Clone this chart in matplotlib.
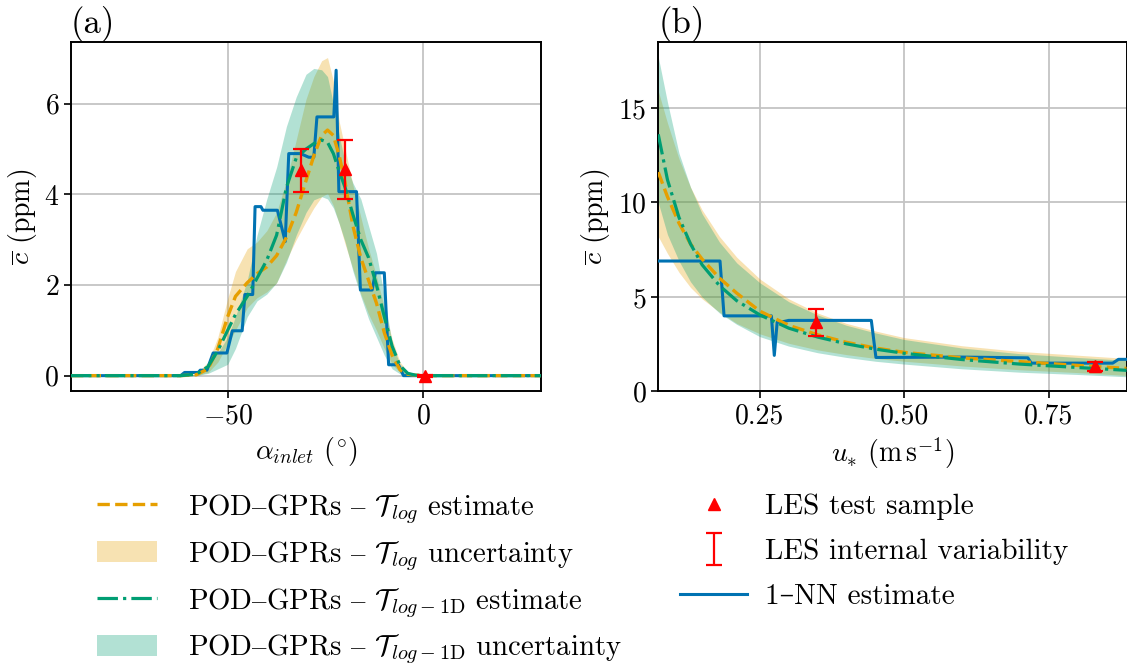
import matplotlib
matplotlib.use("Agg")
import matplotlib.pyplot as plt
from matplotlib.lines import Line2D
from matplotlib.patches import Patch
from matplotlib.legend_handler import HandlerErrorbar
from matplotlib.container import ErrorbarContainer

plt.rcParams['font.family'] = ['cmr10', 'DejaVu Serif']
plt.rcParams['mathtext.fontset'] = 'cm'
plt.rcParams['axes.formatter.use_mathtext'] = True
plt.rcParams['font.size'] = 20
plt.rcParams['axes.unicode_minus'] = True

C_ORANGE = '#E69F00'
C_GREEN = '#009E73'
C_BLUE = '#0072B2'

# ---------------- Panel (a) data ----------------
alpha_grid = [-90, -62, -58, -55, -52.5, -50, -48, -45, -42.5, -40, -37.5, -35, -32.5, -30, -28,
              -26, -24.5, -23, -21.5, -20, -18, -16, -14, -12, -10, -8, -6, -4, -2, 0, 30]
a_log_est = [0, 0, 0.02, 0.15, 0.6, 1.3, 1.75, 2.05, 2.25, 2.4, 2.65, 3.05, 3.6, 4.3, 4.85,
             5.3, 5.42, 5.3, 4.85, 4.25, 3.3, 2.6, 2.1, 1.6, 0.95, 0.45, 0.13, 0.03, 0.01, 0, 0]
a_log_up = [0, 0, 0.05, 0.3, 0.85, 1.7, 2.3, 2.8, 2.95, 3.2, 3.6, 4.3, 5.2, 6.1, 6.6,
            6.95, 7.02, 6.5, 5.6, 5.0, 4.2, 3.5, 2.8, 2.2, 1.5, 0.8, 0.3, 0.08, 0.02, 0, 0]
a_log_lo = [0, 0, 0, 0.07, 0.3, 0.7, 1.0, 1.5, 1.72, 1.85, 2.05, 2.55, 3.0, 3.4, 3.7,
            3.95, 4.02, 3.75, 3.35, 2.9, 2.35, 1.8, 1.35, 1.0, 0.6, 0.25, 0.07, 0.01, 0, 0, 0]
a_1d_est = [0, 0, 0.03, 0.2, 0.55, 1.0, 1.35, 1.75, 2.15, 2.55, 3.1, 4.15, 4.8, 5.0, 5.12,
            5.2, 5.15, 4.9, 4.5, 4.15, 3.55, 3.0, 2.6, 2.0, 1.3, 0.65, 0.22, 0.05, 0.01, 0, 0]
a_1d_up = [0, 0, 0.03, 0.25, 0.5, 0.85, 1.3, 2.1, 3.1, 3.9, 4.6, 5.5, 6.15, 6.65, 6.78,
           6.75, 6.6, 6.0, 5.3, 4.7, 4.25, 3.9, 3.3, 2.7, 1.75, 0.7, 0.25, 0.06, 0.01, 0, 0]
a_1d_lo = [0, 0, 0, 0.05, 0.15, 0.25, 0.6, 1.3, 1.65, 1.8, 2.05, 2.5, 3.1, 3.6, 3.88,
           3.95, 3.9, 3.7, 3.35, 2.95, 2.3, 1.75, 1.25, 0.85, 0.45, 0.15, 0.04, 0, 0, 0, 0]

a_nn_x = [-90, -62, -61, -57.5, -57, -55.3, -53.7, -50.2, -48.8, -46.3, -45.6, -43.6, -43.0,
          -41.5, -41.0, -37.3, -35.3, -34.4, -31.4, -29.3, -28.0, -27.2, -22.9, -22.3, -21.6,
          -17.1, -16.1, -13.1, -12.3, -10.0, -8.9, -6.4, -5.1, 30]
a_nn_y = [0, 0, 0.07, 0.07, 0.12, 0.12, 0.5, 0.5, 0.99, 0.99, 1.79, 1.79, 3.73,
          3.73, 3.65, 3.65, 2.96, 4.9, 4.9, 4.82, 4.82, 5.71, 5.71, 6.74, 4.06,
          4.06, 1.89, 1.89, 2.27, 2.27, 0.24, 0.24, 0.0, 0.0]

a_les_x = [-31.2, -20.1, 0.5]
a_les_y = [4.53, 4.55, 0.0]
a_les_err = [0.47, 0.65, 0.02]

# ---------------- Panel (b) data ----------------
u_grid = [0.074, 0.09, 0.11, 0.13, 0.15, 0.18, 0.21, 0.25, 0.30, 0.35, 0.40, 0.45, 0.50,
          0.60, 0.70, 0.80, 0.885]
b_log_est = [11.6, 10.3, 8.9, 7.8, 7.0, 6.0, 5.2, 4.25, 3.5, 3.0, 2.6, 2.3, 2.07,
             1.78, 1.58, 1.38, 1.22]
b_log_up = [15.9, 14.2, 12.3, 10.8, 9.6, 8.2, 7.1, 5.95, 4.9, 4.15, 3.6, 3.2, 2.85,
            2.42, 2.12, 1.92, 1.75]
b_log_lo = [8.2, 7.3, 6.3, 5.5, 4.9, 4.2, 3.6, 3.05, 2.55, 2.2, 1.95, 1.75, 1.6,
            1.35, 1.15, 1.0, 0.85]
b_1d_est = [13.6, 11.2, 9.2, 7.8, 6.7, 5.6, 4.8, 4.05, 3.35, 2.88, 2.52, 2.24, 2.02,
            1.69, 1.45, 1.27, 1.12]
b_1d_up = [17.7, 15.3, 12.6, 10.8, 9.4, 7.9, 6.8, 5.75, 4.75, 4.05, 3.5, 3.1, 2.75,
           2.3, 2.0, 1.8, 1.65]
b_1d_lo = [10.0, 8.3, 6.9, 5.8, 5.0, 4.15, 3.55, 2.9, 2.4, 2.05, 1.8, 1.6, 1.45,
           1.2, 1.02, 0.9, 0.78]

b_nn_x = [0.074, 0.181, 0.188, 0.270, 0.275, 0.280, 0.287, 0.300, 0.443, 0.451, 0.600,
          0.714, 0.720, 0.861, 0.871, 0.885]
b_nn_y = [6.9, 6.9, 4.0, 4.0, 1.91, 3.67, 3.67, 3.76, 3.76, 1.80, 1.82,
          1.78, 1.50, 1.50, 1.70, 1.70]

b_les_x = [0.348, 0.83]
b_les_y = [3.66, 1.33]
b_les_err = [0.72, 0.22]

# ---------------- Figure ----------------
fig = plt.figure(figsize=(11.27, 6.69), dpi=100)
axA = fig.add_axes([0.063, 0.4148, 0.417, 0.5229])
axB = fig.add_axes([0.5841, 0.4148, 0.4155, 0.5229])

line_kw_log = dict(color=C_ORANGE, ls='--', lw=2.4)
line_kw_1d = dict(color=C_GREEN, ls='-.', lw=2.3)
err_kw = dict(fmt='none', ecolor='red', elinewidth=1.6, capsize=6, capthick=1.6)
MS = 9


def draw(ax, x, lup, llo, lest, gup, glo, gest, nnx, nny, lx, ly, le):
    ax.fill_between(x, llo, lup, color=C_ORANGE, alpha=0.3, lw=0, zorder=1)
    ax.fill_between(x, glo, gup, color=C_GREEN, alpha=0.3, lw=0, zorder=2)
    ax.plot(nnx, nny, color=C_BLUE, lw=2.2, zorder=3)
    ax.plot(x, lest, zorder=4, **line_kw_log)
    ax.plot(x, gest, zorder=5, **line_kw_1d)
    eb = ax.errorbar(lx, ly, yerr=le, zorder=6, **err_kw)
    ax.plot(lx, ly, ls='none', marker='^', color='red', ms=MS, zorder=7)
    ax.grid(True, color='#c4c4c4', lw=1.3)
    ax.set_axisbelow(True)
    for s in ax.spines.values():
        s.set_linewidth(1.4)
    ax.tick_params(width=1.2, length=5)
    return eb


draw(axA, alpha_grid, a_log_up, a_log_lo, a_log_est, a_1d_up, a_1d_lo, a_1d_est,
     a_nn_x, a_nn_y, a_les_x, a_les_y, a_les_err)
ebB = draw(axB, u_grid, b_log_up, b_log_lo, b_log_est, b_1d_up, b_1d_lo, b_1d_est,
           b_nn_x, b_nn_y, b_les_x, b_les_y, b_les_err)

axA.set_xlim(-90, 30)
axA.set_ylim(-0.35, 7.37)
axA.set_xticks([-50, 0])
axA.set_yticks([0, 2, 4, 6])
axA.set_xlabel(r'$\alpha_{inlet}$ $(^{\circ})$')
axA.set_ylabel(r'$\overline{c}$ (ppm)')
axA.set_title('(a)', loc='left', fontsize=25, pad=1)

axB.set_xlim(0.0741, 0.885)
axB.set_ylim(0, 18.5)
axB.set_xticks([0.25, 0.5, 0.75])
axB.set_xticklabels(['0.25', '0.50', '0.75'])
axB.set_yticks([0, 5, 10, 15])
axB.set_xlabel(r'$u_{*}$ $(\mathrm{m\,s^{-1}})$')
axB.set_ylabel(r'$\overline{c}$ (ppm)')
axB.set_title('(b)', loc='left', fontsize=25, pad=1)

# legends
D = r'$\mathrm{–}$'
hA = [Line2D([], [], **line_kw_log),
      Patch(facecolor=C_ORANGE, alpha=0.3, lw=0),
      Line2D([], [], **line_kw_1d),
      Patch(facecolor=C_GREEN, alpha=0.3, lw=0)]
lA = ['POD' + D + 'GPRs ' + D + r' $\mathcal{T}_{log}$ estimate',
      'POD' + D + 'GPRs ' + D + r' $\mathcal{T}_{log}$ uncertainty',
      'POD' + D + 'GPRs ' + D + r' $\mathcal{T}_{log-\mathrm{1D}}$ estimate',
      'POD' + D + 'GPRs ' + D + r' $\mathcal{T}_{log-\mathrm{1D}}$ uncertainty']
fig.legend(hA, lA, loc='upper left', bbox_to_anchor=(0.0861, 0.2646), frameon=False,
           borderpad=0, borderaxespad=0, handlelength=2.1, handletextpad=1.08,
           handleheight=0.77, labelspacing=0.46, fontsize=20.7)

hB = [Line2D([], [], ls='none', marker='^', color='red', ms=MS),
      ebB,
      Line2D([], [], color=C_BLUE, lw=2.2)]
lB = ['LES test sample', 'LES internal variability', '1–NN estimate']
fig.legend(hB, lB, loc='upper left', bbox_to_anchor=(0.6034, 0.262), frameon=False,
           borderpad=0, borderaxespad=0, handlelength=2.3, handletextpad=0.62,
           labelspacing=0.63, fontsize=21,
           handler_map={ErrorbarContainer: HandlerErrorbar(xerr_size=0.55)})

fig.savefig('out.png', dpi=100)
